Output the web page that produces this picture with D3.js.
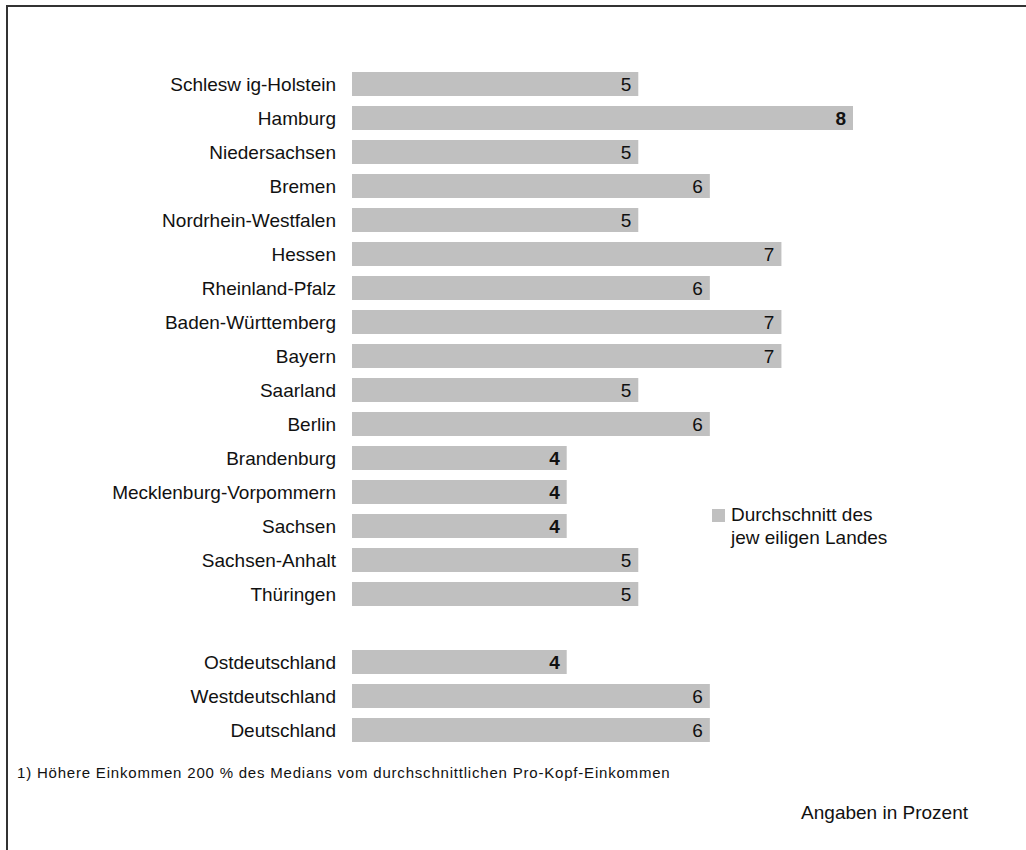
<!DOCTYPE html>
<html>
<head>
<meta charset="utf-8">
<script src="https://cdn.jsdelivr.net/npm/d3@7"></script>
<style>
  body { margin: 0; background: #fff; }
  svg { display: block; font-family: "Liberation Sans", Arial, sans-serif; }
</style>
</head>
<body>
<div class="display"></div>
<script>
const width = 1026;
const height = 850;

// data
const states = ['Schlesw ig-Holstein', 'Hamburg', 'Niedersachsen', 'Bremen', 'Nordrhein-Westfalen', 'Hessen',
    'Rheinland-Pfalz', 'Baden-Württemberg', 'Bayern', 'Saarland', 'Berlin', 'Brandenburg',
    'Mecklenburg-Vorpommern', 'Sachsen', 'Sachsen-Anhalt', 'Thüringen'];
const stateValues = [5, 8, 5, 6, 5, 7, 6, 7, 7, 5, 6, 4, 4, 4, 5, 5];
const regions = ['Ostdeutschland', 'Westdeutschland', 'Deutschland'];
const regionValues = [4, 6, 6];
const highlighted = ['Hamburg', 'Brandenburg', 'Mecklenburg-Vorpommern', 'Sachsen', 'Ostdeutschland'];
const legendLines = ['Durchschnitt des', 'jew eiligen Landes'];
const footnote = '1) Höhere Einkommen 200 % des Medians vom durchschnittlichen Pro-Kopf-Einkommen';
const unitNote = 'Angaben in Prozent';

const dataset = states.map((name, i) => ({name, value: stateValues[i]}))
    .concat(regions.map((name, i) => ({name, value: regionValues[i]})));
const slots = states.concat(['__gap__'], regions);

const svg = d3.select('.display')
    .append('svg')
    .attr('width', width)
    .attr('height', height);

// frame
svg.append('rect')
    .attr('x', 7)
    .attr('y', 6)
    .attr('width', 1040)
    .attr('height', 870)
    .attr('fill', 'none')
    .attr('stroke', '#333')
    .attr('stroke-width', 2);

const xScale = d3.scaleLinear()
    .domain([1, 8])
    .range([352, 853]);

const rowStep = 34;
const yScale = d3.scaleBand()
    .domain(slots)
    .range([72, 72 + slots.length * rowStep - 10])
    .paddingInner(10 / rowStep)
    .paddingOuter(0);

const yAxis = d3.axisLeft(yScale)
    .tickValues(dataset.map(d => d.name))
    .tickSize(0)
    .tickPadding(16);

svg.append('g')
    .attr('transform', `translate(${xScale(1)}, 0)`)
    .call(yAxis)
    .call(g => g.select('.domain').remove())
    .call(g => g.selectAll('text')
        .attr('font-size', 19)
        .attr('font-family', '"Liberation Sans", Arial, sans-serif')
        .attr('fill', '#111')
        .attr('dy', '0.36em'));

svg.selectAll('rect.bar')
    .data(dataset)
    .enter()
    .append('rect')
    .attr('class', 'bar')
    .attr('x', xScale(1))
    .attr('y', d => yScale(d.name))
    .attr('width', d => xScale(d.value) - xScale(1))
    .attr('height', yScale.bandwidth())
    .attr('fill', '#c0c0c0');

svg.selectAll('text.value')
    .data(dataset)
    .enter()
    .append('text')
    .attr('class', 'value')
    .attr('x', d => xScale(d.value) - 7)
    .attr('y', d => yScale(d.name) + yScale.bandwidth() / 2)
    .attr('dy', '0.36em')
    .attr('text-anchor', 'end')
    .attr('font-size', 19)
    .attr('font-weight', d => highlighted.includes(d.name) ? 'bold' : 'normal')
    .attr('fill', '#111')
    .text(d => d.value);

// legend
const legend = svg.append('g')
    .attr('id', 'legend');

legend.append('rect')
    .attr('x', 712)
    .attr('y', 509)
    .attr('width', 13)
    .attr('height', 13)
    .attr('fill', '#c0c0c0');

legend.selectAll('text')
    .data(legendLines)
    .enter()
    .append('text')
    .attr('x', 731)
    .attr('y', (d, i) => 521 + i * 23)
    .attr('font-size', 19)
    .attr('fill', '#111')
    .text(d => d);

svg.append('text')
    .attr('x', 17)
    .attr('y', 778)
    .attr('font-size', 15)
    .attr('letter-spacing', 0.8)
    .attr('fill', '#111')
    .text(footnote);

svg.append('text')
    .attr('x', 968)
    .attr('y', 819)
    .attr('text-anchor', 'end')
    .attr('font-size', 19)
    .attr('fill', '#111')
    .text(unitNote);
</script>
</body>
</html>
